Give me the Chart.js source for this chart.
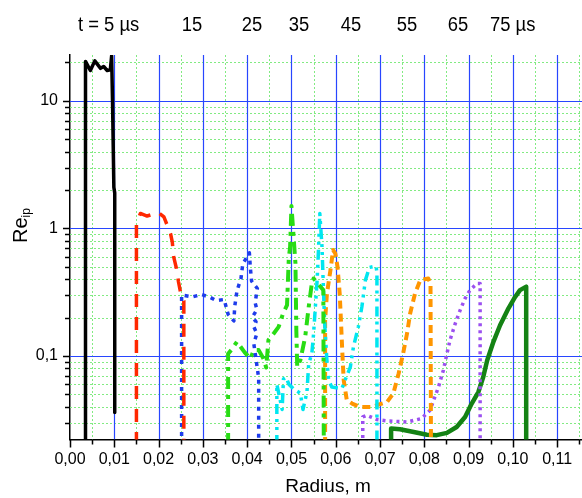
<!DOCTYPE html>
<html>
<head>
<meta charset="utf-8">
<script src="https://cdn.jsdelivr.net/npm/chart.js@4.4.1/dist/chart.umd.min.js"></script>
<style>
  html, body { margin: 0; padding: 0; background: #fff; }
</style>
</head>
<body>
<canvas id="chart" width="582" height="498"></canvas>
<script>
// radius (m) and Re_ip values, one pair of arrays per time
const r5 = [0.0035, 0.0035, 0.0046, 0.0056, 0.0069, 0.0076, 0.0084, 0.0091, 0.0094, 0.0096, 0.0099, 0.0101, 0.0101];
const re5 = [0.02, 20.4, 17.3, 20.6, 18.0, 18.6, 17.3, 17.5, 22.5, 10, 2.1, 1.9, 0.036];

const r15 = [0.0150, 0.0150, 0.0159, 0.0174, 0.0200, 0.0212, 0.0227, 0.0231, 0.0234, 0.0240, 0.0245, 0.0250, 0.0257, 0.0257];
const re15 = [0.02, 1.10, 1.31, 1.25, 1.33, 1.23, 0.91, 0.78, 0.60, 0.49, 0.38, 0.31, 0.27, 0.02];

const r25 = [0.0252, 0.0252, 0.0276, 0.0297, 0.0317, 0.0330, 0.0348, 0.0357, 0.0370, 0.0372, 0.0377, 0.0386, 0.0390, 0.0405,
  0.0407, 0.0410, 0.0423, 0.0418, 0.0422, 0.0412, 0.0420, 0.0415, 0.0422, 0.0415, 0.0426, 0.0426];
const re25 = [0.02, 0.300, 0.290, 0.303, 0.287, 0.272, 0.277, 0.212, 0.188, 0.245, 0.324, 0.405, 0.525, 0.643,
  0.50, 0.386, 0.338, 0.261, 0.231, 0.202, 0.185, 0.169, 0.150, 0.125, 0.067, 0.02];

const r35 = [0.0357, 0.0357, 0.0364, 0.0377, 0.0394, 0.0407, 0.0415, 0.0426, 0.0437, 0.0443, 0.0448, 0.0460, 0.0471, 0.0481,
  0.0490, 0.0494, 0.0497, 0.0500, 0.0509, 0.0511, 0.0513, 0.0520, 0.0531, 0.0539, 0.0546, 0.0550, 0.0572, 0.0573];
const re35 = [0.02, 0.104, 0.111, 0.129, 0.107, 0.095, 0.111, 0.111, 0.095, 0.081, 0.133, 0.150, 0.169, 0.215,
  0.25, 0.581, 0.717, 1.50, 0.531, 0.159, 0.082, 0.0925, 0.141, 0.243, 0.37, 0.405, 0.328, 0.02];

const r45 = [0.0467, 0.0467, 0.0479, 0.0482, 0.0488, 0.0494, 0.0505, 0.0520, 0.0526, 0.0535, 0.0539, 0.0546, 0.0550, 0.0554,
  0.0558, 0.0561, 0.0564, 0.0569, 0.0571, 0.0575, 0.0580, 0.0584, 0.0591, 0.0614, 0.0621, 0.0633, 0.0640, 0.0651,
  0.0659, 0.0667, 0.0676, 0.0691, 0.0693, 0.0693];
const re45 = [0.02, 0.060, 0.038, 0.066, 0.068, 0.060, 0.055, 0.051, 0.038, 0.052, 0.087, 0.104, 0.150, 0.243,
  0.393, 0.676, 1.31, 0.717, 0.444, 0.180, 0.0925, 0.0644, 0.057, 0.0555, 0.0644, 0.082, 0.118, 0.169,
  0.243, 0.393, 0.494, 0.506, 0.45, 0.02];

const r55 = [0.0576, 0.0576, 0.0580, 0.0588, 0.0594, 0.0599, 0.0604, 0.0609, 0.0612, 0.0615, 0.0618, 0.0625, 0.0637, 0.0655,
  0.0682, 0.0700, 0.0716, 0.0730, 0.0742, 0.0752, 0.0761, 0.0768, 0.0779, 0.0791, 0.0809, 0.0814, 0.0815];
const re55 = [0.02, 0.191, 0.305, 0.47, 0.676, 0.637, 0.50, 0.305, 0.180, 0.104, 0.0644, 0.0449, 0.0423, 0.0398,
  0.0398, 0.0418, 0.0436, 0.0507, 0.0728, 0.104, 0.150, 0.215, 0.309, 0.393, 0.405, 0.37, 0.02];

const r65 = [0.0661, 0.0661, 0.0670, 0.0693, 0.0716, 0.0761, 0.0794, 0.0813, 0.0821, 0.0832, 0.0843, 0.0851, 0.0858, 0.0870,
  0.0881, 0.0892, 0.0903, 0.0919, 0.0926, 0.0926];
const re65 = [0.02, 0.0332, 0.0342, 0.0317, 0.0309, 0.0303, 0.0323, 0.0375, 0.0449, 0.057, 0.0772, 0.104, 0.133, 0.180,
  0.229, 0.282, 0.328, 0.370, 0.370, 0.02];

const r75 = [0.0725, 0.0725, 0.0745, 0.0776, 0.0806, 0.0828, 0.0851, 0.0873, 0.0892, 0.0907, 0.0922, 0.0933, 0.0942, 0.0956,
  0.0971, 0.0990, 0.1005, 0.1016, 0.1030, 0.1030];
const re75 = [0.02, 0.0269, 0.0266, 0.0253, 0.0241, 0.0239, 0.0249, 0.0277, 0.0332, 0.0423, 0.0521, 0.0684, 0.0925, 0.129,
  0.174, 0.236, 0.290, 0.328, 0.348, 0.02];

// tick labels
const xTicks = [0, 0.01, 0.02, 0.03, 0.04, 0.05, 0.06, 0.07, 0.08, 0.09, 0.10, 0.11];
const yTicks = [0.1, 1, 10];
const timeLabels = ['t = 5 \u00b5s', '15', '25', '35', '45', '55', '65', '75 \u00b5s'];

const FONT = '"Liberation Sans", Arial, sans-serif';

function series(rs, vs, color, width, dash) {
  return {
    data: rs.map((r, i) => ({ x: r, y: vs[i] })),
    showLine: true,
    borderColor: color,
    borderWidth: width,
    borderDash: dash,
    borderCapStyle: 'butt',
    borderJoinStyle: 'round',
    pointRadius: 0,
    tension: 0,
    fill: false
  };
}

// grid lines, tick marks and the free texts
const decor = {
  id: 'decor',
  beforeDatasetsDraw(chart) {
    const { ctx, chartArea: a, scales: { x, y } } = chart;
    const xs = [], ys = [];
    for (let i = 1; i <= 23; i++) xs.push({ v: i * 0.005, major: i % 2 === 0 });
    [0.01, 0.1, 1, 10].forEach(d => {
      for (let k = 1; k <= 9; k++) ys.push({ v: k * d, major: k === 1 });
    });
    ctx.save();
    ctx.lineWidth = 1;
    // minor dotted green
    ctx.strokeStyle = 'rgb(130,235,130)';
    ctx.setLineDash([2, 2]);
    ctx.beginPath();
    xs.filter(t => !t.major).forEach(t => {
      const p = Math.round(x.getPixelForValue(t.v)) + 0.5;
      if (p < a.right) { ctx.moveTo(p, a.top); ctx.lineTo(p, a.bottom); }
    });
    ys.filter(t => !t.major).forEach(t => {
      const p = Math.round(y.getPixelForValue(t.v)) + 0.5;
      if (p > a.top && p < a.bottom) { ctx.moveTo(a.left, p); ctx.lineTo(a.right, p); }
    });
    ctx.stroke();
    // major blue
    ctx.setLineDash([]);
    ctx.strokeStyle = 'rgb(40,70,255)';
    ctx.lineWidth = 1.2;
    ctx.beginPath();
    xs.filter(t => t.major).forEach(t => {
      const p = Math.round(x.getPixelForValue(t.v)) + 0.5;
      ctx.moveTo(p, a.top); ctx.lineTo(p, a.bottom);
    });
    ys.filter(t => t.major).forEach(t => {
      const p = Math.round(y.getPixelForValue(t.v)) + 0.5;
      if (p > a.top && p < a.bottom) { ctx.moveTo(a.left, p); ctx.lineTo(a.right, p); }
    });
    ctx.stroke();
    // tick marks
    ctx.strokeStyle = '#000';
    ctx.lineWidth = 1.5;
    ctx.beginPath();
    [{ v: 0, major: true }].concat(xs).forEach(t => {
      const p = Math.round(x.getPixelForValue(t.v)) + 0.5;
      ctx.moveTo(p, a.bottom); ctx.lineTo(p, a.bottom + (t.major ? 8 : 5));
    });
    ys.forEach(t => {
      const p = Math.round(y.getPixelForValue(t.v)) + 0.5;
      if (p >= a.top && p <= a.bottom) { ctx.moveTo(a.left, p); ctx.lineTo(a.left - (t.major ? 7 : 5), p); }
    });
    ctx.stroke();
    ctx.restore();
  },
  afterDraw(chart) {
    const { ctx } = chart;
    ctx.save();
    ctx.fillStyle = '#000';
    ctx.textBaseline = 'alphabetic';
    // times above the plot
    const spots = [[78, 'left'], [192, 'center'], [252, 'center'], [299, 'center'], [351, 'center'],
      [407, 'center'], [458, 'center'], [490, 'left']];
    ctx.font = '20px ' + FONT;
    timeLabels.forEach((t, i) => {
      ctx.save();
      ctx.translate(spots[i][0], 31);
      ctx.scale(0.92, 1);
      ctx.textAlign = spots[i][1];
      ctx.fillText(t, 0, 0);
      ctx.restore();
    });
    // y title Re_ip
    ctx.save();
    ctx.translate(27, 243);
    ctx.rotate(-Math.PI / 2);
    ctx.textAlign = 'left';
    ctx.font = '20px ' + FONT;
    ctx.fillText('Re', 0, 0);
    const w = ctx.measureText('Re').width;
    ctx.font = '12px ' + FONT;
    ctx.fillText('ip', w, 3);
    ctx.restore();
    // x title
    ctx.font = '19px ' + FONT;
    ctx.textAlign = 'center';
    ctx.fillText('Radius, m', 328, 492);
    ctx.restore();
  }
};

new Chart(document.getElementById('chart'), {
  type: 'scatter',
  data: {
    datasets: [
      series(r5, re5, '#000000', 3.5, []),
      series(r15, re15, 'rgb(255,40,0)', 3.5, [13, 10]),
      series(r25, re25, 'rgb(30,60,235)', 3.5, [4, 5]),
      series(r35, re35, 'rgb(40,220,20)', 4, [12, 6, 4, 6]),
      series(r45, re45, 'rgb(0,230,240)', 3.5, [10, 5, 3, 5, 3, 5]),
      series(r55, re55, 'rgb(255,150,0)', 4, [8, 5]),
      series(r65, re65, 'rgb(155,80,240)', 3.5, [3, 4]),
      series(r75, re75, 'rgb(20,130,20)', 4.5, [])
    ]
  },
  options: {
    responsive: false,
    animation: false,
    events: [],
    layout: { padding: { top: 55, right: 0, left: 0, bottom: 0 } },
    plugins: { legend: { display: false }, tooltip: { enabled: false } },
    scales: {
      x: {
        type: 'linear',
        min: 0,
        max: 0.1156,
        grid: { display: false, drawTicks: true, tickLength: 8 },
        border: { display: true, color: '#000', width: 1.5 },
        afterBuildTicks: s => { s.ticks = xTicks.map(v => ({ value: v })); },
        afterFit: s => { s.height = 58.5; },
        ticks: {
          color: '#000',
          font: { family: FONT, size: 16 },
          padding: 2,
          maxRotation: 0,
          autoSkip: false,
          callback: v => v.toFixed(2).replace('.', ',')
        }
      },
      y: {
        type: 'logarithmic',
        min: 0.0221,
        max: 22.9,
        grid: { display: false, drawTicks: true, tickLength: 7 },
        border: { display: true, color: '#000', width: 1.5 },
        afterBuildTicks: s => { s.ticks = yTicks.map(v => ({ value: v })); },
        afterFit: s => { s.width = 70; },
        ticks: {
          color: '#000',
          font: { family: FONT, size: 16 },
          padding: 5,
          autoSkip: false,
          callback: v => String(v).replace('.', ',')
        }
      }
    }
  },
  plugins: [decor]
});
</script>
</body>
</html>
